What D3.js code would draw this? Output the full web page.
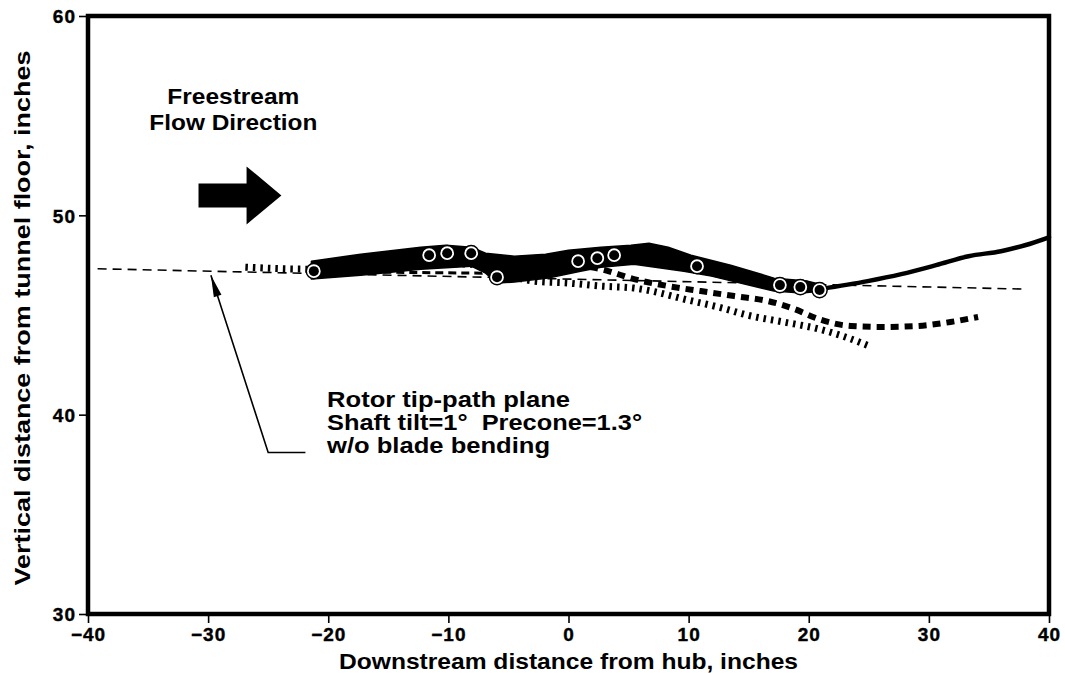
<!DOCTYPE html>
<html>
<head>
<meta charset="utf-8">
<script src="https://cdn.jsdelivr.net/npm/d3@7"></script>
<style>
  html, body { margin: 0; padding: 0; background: #fff; }
  svg { display: block; }
  text { font-family: "Liberation Sans", Arial, Helvetica, sans-serif; font-weight: bold; fill: #000; }
</style>
</head>
<body>
<svg id="chart" width="1065" height="673"></svg>
<script>
// Axis ticks
const xTicks = [-40, -30, -20, -10, 0, 10, 20, 30, 40];
const yTicks = [30, 40, 50, 60];

// Rotor tip-path plane (thin dashed reference line)
const tipPlaneX = [-39.2, 38];
const tipPlaneY = [47.32, 46.3];

// Measured vortex trajectory band: upper edge (left to right) and lower edge (right to left)
const bandUpperX = [-21.4, -17.3, -12.3, -10.2, -8.1, -6.9, -4.5, -1.9, 0.0, 2.7, 5.2, 6.7, 8.3, 10.2, 13.5, 17.1, 19.9, 21.2];
const bandUpperY = [47.7, 48.05, 48.4, 48.5, 48.4, 48.1, 47.95, 48.05, 48.25, 48.4, 48.5, 48.6, 48.4, 48.0, 47.5, 46.85, 46.7, 46.5];
const bandLowerX = [21.2, 19.4, 17.1, 11.9, 9.6, 5.45, 2.7, 1.0, -1.7, -4.5, -5.95, -6.9, -8.1, -12.3, -17.3, -21.4];
const bandLowerY = [46.2, 46.1, 46.2, 46.95, 47.2, 47.55, 47.4, 47.2, 46.85, 46.65, 46.6, 47.1, 47.45, 47.3, 47.0, 46.8];

// Measured vortex positions (circle markers)
const markerX = [-21.2, -11.6, -10.1, -8.1, -5.95, 0.8, 2.4, 3.8, 10.7, 17.6, 19.3, 20.9];
const markerY = [47.2, 48.0, 48.1, 48.1, 46.9, 47.7, 47.85, 48.0, 47.45, 46.5, 46.4, 46.25];

// Solid trailing line downstream of the measurements
const trailX = [20.9, 24.9, 27.7, 30.6, 33.3, 36.0, 38.0, 40.0];
const trailY = [46.3, 46.7, 47.05, 47.5, 47.95, 48.2, 48.5, 48.9];

// Heavy dashed prediction (inboard, thinner part and outboard part)
const dashInX = [-16.5, -7.2, -6.2, -5.4];
const dashInY = [47.15, 47.1, 47.4, 47.7];
const dashOutX = [1.8, 2.7, 5.45, 8.3, 11.0, 13.8, 16.6, 18.8, 20.8, 23.5, 26.3, 29.1, 31.8, 34.1];
const dashOutY = [47.4, 47.3, 46.8, 46.45, 46.2, 45.95, 45.7, 45.3, 44.8, 44.45, 44.4, 44.45, 44.65, 44.9];

// Dotted prediction
const dotX = [-26.9, -21.5, -12.0, -7.0, -4.5, -2.9, 0.0, 2.7, 5.45, 6.9, 9.6, 12.45, 15.2, 17.9, 20.8, 23.5, 25.2];
const dotY = [47.4, 47.3, 47.6, 47.5, 46.9, 46.7, 46.6, 46.45, 46.35, 46.2, 45.8, 45.4, 44.95, 44.65, 44.3, 43.8, 43.4];

const margin = { left: 88, top: 16, right: 16, bottom: 59 };
const W = 1065, H = 673;
const svg = d3.select("#chart");

const x = d3.scaleLinear().domain([-40, 40]).range([margin.left, W - margin.right]);
const y = d3.scaleLinear().domain([30, 60]).range([H - margin.bottom, margin.top]);

const zip = (xs, ys) => xs.map((v, i) => [v, ys[i]]);
const line = d3.line().x(d => x(d[0])).y(d => y(d[1]));
const smooth = d3.line().x(d => x(d[0])).y(d => y(d[1])).curve(d3.curveMonotoneX);

// Plot frame
svg.append("rect")
  .attr("x", x(-40)).attr("y", y(60))
  .attr("width", x(40) - x(-40)).attr("height", y(30) - y(60))
  .attr("fill", "none").attr("stroke", "#000").attr("stroke-width", 4.5);

// Axes (ticks + labels), domain drawn by the frame
const xAxis = svg.append("g").attr("transform", `translate(0,${y(30)})`)
  .call(d3.axisBottom(x).tickValues(xTicks).tickSize(9).tickPadding(4).tickFormat(d3.format("d")));
const yAxis = svg.append("g").attr("transform", `translate(${x(-40)},0)`)
  .call(d3.axisLeft(y).tickValues(yTicks).tickSize(9).tickPadding(3).tickFormat(d3.format("d")));
[xAxis, yAxis].forEach(g => {
  g.attr("font-size", null).attr("font-family", null);
  g.select(".domain").remove();
  g.selectAll(".tick line").attr("stroke", "#000").attr("stroke-width", 1.6);
  g.selectAll(".tick text")
    .style("font-size", "19px").style("font-weight", "900")
    .style("font-family", "'Liberation Sans', Arial, sans-serif").style("fill", "#000")
    .style("stroke", "#000").style("stroke-width", "0.4px")
    .style("letter-spacing", "1px");
});
xAxis.selectAll(".tick text").attr("dy", "0.72em");
yAxis.selectAll(".tick text").attr("dy", "0.36em");

// Axis titles
svg.append("text")
  .attr("x", (x(-40) + x(40)) / 2).attr("y", 669)
  .attr("text-anchor", "middle").attr("font-size", 22)
  .attr("textLength", 459).attr("lengthAdjust", "spacingAndGlyphs")
  .text("Downstream distance from hub, inches");
svg.append("text")
  .attr("transform", `translate(30,${318}) rotate(-90)`)
  .attr("text-anchor", "middle").attr("font-size", 22)
  .attr("textLength", 535).attr("lengthAdjust", "spacingAndGlyphs")
  .text("Vertical distance from tunnel floor, inches");

// Rotor tip-path plane
svg.append("path").datum(zip(tipPlaneX, tipPlaneY)).attr("d", line)
  .attr("fill", "none").attr("stroke", "#000").attr("stroke-width", 1.6).attr("stroke-dasharray", "9 6");

// Predictions beneath the measured band
svg.append("path").datum(zip(dotX, dotY)).attr("d", smooth)
  .attr("fill", "none").attr("stroke", "#000").attr("stroke-width", 7).attr("stroke-dasharray", "2.5 5");
svg.append("path").datum(zip(dashInX, dashInY)).attr("d", line)
  .attr("fill", "none").attr("stroke", "#000").attr("stroke-width", 3).attr("stroke-dasharray", "8 5");
svg.append("path").datum(zip(dashOutX, dashOutY)).attr("d", smooth)
  .attr("fill", "none").attr("stroke", "#000").attr("stroke-width", 6).attr("stroke-dasharray", "8 6");

// Trailing solid line
svg.append("path").datum(zip(trailX, trailY)).attr("d", smooth)
  .attr("fill", "none").attr("stroke", "#000").attr("stroke-width", 4.5).attr("stroke-linecap", "round");

// Measured band
const band = zip(bandUpperX, bandUpperY).concat(zip(bandLowerX, bandLowerY));
svg.append("path").datum(band).attr("d", d => line(d) + "Z")
  .attr("fill", "#000").attr("stroke", "#000").attr("stroke-width", 1.5).attr("stroke-linejoin", "round");

// Markers: black dot inside a white ring with a thin black rim
const markers = svg.append("g").selectAll("g").data(zip(markerX, markerY)).join("g")
  .attr("transform", d => `translate(${x(d[0])},${y(d[1])})`);
markers.append("circle").attr("r", 7.6).attr("fill", "#fff").attr("stroke", "#000").attr("stroke-width", 1.5);
markers.append("circle").attr("r", 5).attr("fill", "#000");

// Freestream flow direction arrow and label
const ax0 = x(-30.8), ax1 = x(-26.8), axTip = x(-23.9), ay = y(51.0);
svg.append("path")
  .attr("d", `M${ax0},${ay - 12}L${ax1},${ay - 12}L${ax1},${ay - 29}L${axTip},${ay}L${ax1},${ay + 29}L${ax1},${ay + 12}L${ax0},${ay + 12}Z`)
  .attr("fill", "#000");
svg.append("text").attr("x", x(-27.9)).attr("y", y(55.6)).attr("text-anchor", "middle")
  .attr("font-size", 22).attr("textLength", 132).attr("lengthAdjust", "spacingAndGlyphs").text("Freestream");
svg.append("text").attr("x", x(-27.9)).attr("y", y(54.3)).attr("text-anchor", "middle")
  .attr("font-size", 22).attr("textLength", 168).attr("lengthAdjust", "spacingAndGlyphs").text("Flow Direction");

// Tip-path plane annotation with leader arrow
const lx0 = x(-21.9), lx1 = x(-25.0), ly1 = y(38.1), tx = x(-29.77), ty = y(47.0);
svg.append("path").attr("d", `M${lx0},${ly1}L${lx1},${ly1}L${tx},${ty}`)
  .attr("fill", "none").attr("stroke", "#000").attr("stroke-width", 1.6);
const ang = Math.atan2(ly1 - ty, lx1 - tx);
const hl = 22, hw = 4;
const bx = tx + hl * Math.cos(ang), by = ty + hl * Math.sin(ang);
svg.append("path")
  .attr("d", `M${tx},${ty}L${bx - hw * Math.sin(ang)},${by + hw * Math.cos(ang)}L${bx + hw * Math.sin(ang)},${by - hw * Math.cos(ang)}Z`)
  .attr("fill", "#000");

const noteX = x(-20.1);
const noteLines = [
  { t: "Rotor tip-path plane", y: 407, w: 243 },
  { t: "Shaft tilt=1\u00B0  Precone=1.3\u00B0", y: 430, w: 315 },
  { t: "w/o blade bending", y: 453, w: 223 }
];
svg.append("g").selectAll("text").data(noteLines).join("text")
  .attr("x", noteX).attr("y", d => d.y).attr("font-size", 22)
  .attr("textLength", d => d.w).attr("lengthAdjust", "spacingAndGlyphs")
  .attr("xml:space", "preserve")
  .text(d => d.t);
</script>
</body>
</html>
